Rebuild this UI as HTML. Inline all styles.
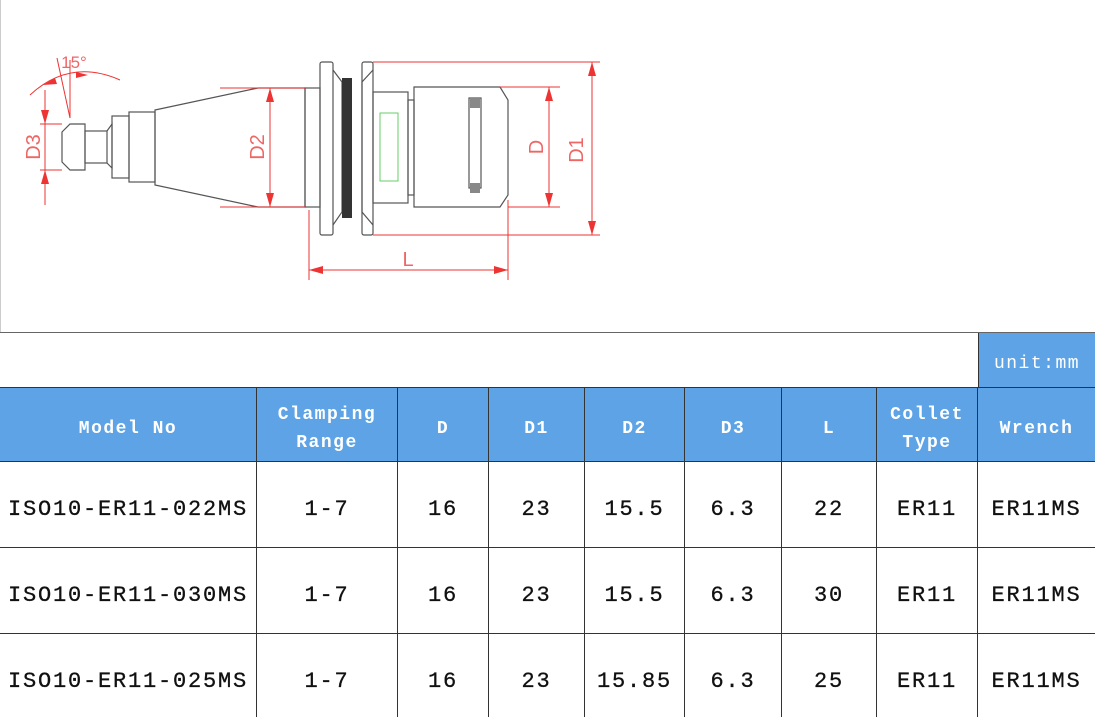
<!DOCTYPE html>
<html><head><meta charset="utf-8"><style>
html,body{margin:0;padding:0;background:#fff;}
#w{position:relative;width:1095px;height:717px;overflow:hidden;background:#fff;}
.c{position:absolute;box-sizing:border-box;display:flex;align-items:center;justify-content:center;text-align:center;font-family:"Liberation Mono",monospace;}
.h{background:#5da3e5;color:#fff;font-weight:bold;font-size:18px;letter-spacing:1.5px;line-height:28px;border-right:1px solid #333;padding-top:7px;}
.d{color:#111;font-size:22px;letter-spacing:1.8px;border-right:1px solid #333;border-bottom:1px solid #333;padding-top:9px;-webkit-text-stroke:0.3px #111;}
</style></head><body><div id="w">
<svg width="1095" height="332" style="position:absolute;left:0;top:0" xmlns="http://www.w3.org/2000/svg">
<line x1="0.5" y1="0" x2="0.5" y2="332" stroke="#ccc"/>
<g fill="none" stroke="#555" stroke-width="1.2">
<path d="M62 132 L70 124 L85 124 L85 170 L70 170 L62 162 Z"/>
<rect x="85" y="131" width="22" height="32"/>
<path d="M107 131 L112 124 L112 168 L107 163"/>
<rect x="112" y="116" width="17" height="62"/>
<rect x="129" y="112" width="26" height="70"/>
<path d="M155 110 L258 88 L305 88 L305 207 L258 207 L155 185 Z"/>
<rect x="305" y="88" width="15" height="119"/>
<rect x="320" y="62" width="13" height="173" rx="2"/>
<path d="M333 70 L342 82 L342 212 L333 225"/>
<path d="M373 70 L362 82 L362 212 L373 225"/>
<rect x="362" y="62" width="11" height="173" rx="2"/>
<rect x="373" y="92" width="35" height="111"/>
<rect x="408" y="100" width="6" height="95"/>
<path d="M414 87 L500 87 L508 100 L508 195 L500 207 L414 207 Z"/>
<rect x="469" y="98" width="12" height="90"/>
</g>
<rect x="342" y="78" width="10" height="140" fill="#333"/>
<rect x="380" y="113" width="18" height="68" fill="none" stroke="#6c6" stroke-width="1"/>
<rect x="470" y="98" width="10" height="10" fill="#888"/>
<rect x="470" y="183" width="10" height="10" fill="#888"/>
<g stroke="#e33" stroke-width="1" fill="none">
<line x1="373" y1="62" x2="600" y2="62"/><line x1="373" y1="235" x2="600" y2="235"/>
<line x1="592" y1="62" x2="592" y2="235"/>
<line x1="500" y1="87" x2="560" y2="87"/><line x1="508" y1="207" x2="560" y2="207"/>
<line x1="549" y1="87" x2="549" y2="207"/>
<line x1="220" y1="88" x2="305" y2="88"/><line x1="220" y1="207" x2="305" y2="207"/>
<line x1="270" y1="88" x2="270" y2="207"/>
<line x1="40" y1="124" x2="62" y2="124"/><line x1="40" y1="170" x2="62" y2="170"/>
<line x1="45" y1="90" x2="45" y2="205"/>
<line x1="309" y1="210" x2="309" y2="280"/><line x1="508" y1="200" x2="508" y2="280"/>
<line x1="309" y1="270" x2="508" y2="270"/>
<path d="M30 95 Q70 58 120 80"/>
<line x1="70" y1="118" x2="57" y2="58"/><line x1="70" y1="118" x2="70" y2="60"/>
</g>
<g fill="#e33">
<path d="M592 62 l-4 14 h8z M592 235 l-4 -14 h8z"/>
<path d="M549 87 l-4 14 h8z M549 207 l-4 -14 h8z"/>
<path d="M270 88 l-4 14 h8z M270 207 l-4 -14 h8z"/>
<path d="M45 124 l-4 -14 h8z M45 170 l-4 14 h8z"/>
<path d="M309 270 l14 -4 v8z M508 270 l-14 -4 v8z"/>
<path d="M43 85 l12 -7 l2 6z M88 75 l-12 -3 v6z"/>
</g>
<g fill="#e66" font-family="Liberation Sans,sans-serif" font-size="20">
<text x="0" y="0" transform="translate(583,150) rotate(-90)" text-anchor="middle">D1</text>
<text x="0" y="0" transform="translate(543,147) rotate(-90)" text-anchor="middle">D</text>
<text x="0" y="0" transform="translate(264,147) rotate(-90)" text-anchor="middle">D2</text>
<text x="0" y="0" transform="translate(40,147) rotate(-90)" text-anchor="middle">D3</text>
<text x="408" y="266" text-anchor="middle">L</text>
<text x="74" y="68" font-size="17" text-anchor="middle">15°</text>
</g>
</svg>
<div style="position:absolute;left:0;top:332px;width:1095px;height:1px;background:#666"></div>
<div class="c h" style="left:978px;top:333px;width:117px;height:54px;border-left:1px solid #333;border-right:none;font-weight:normal">unit:mm</div>
<div style="position:absolute;left:0;top:387px;width:1095px;height:1px;background:#333"></div>
<div class="c h" style="left:0;top:388px;width:257px;height:74px">Model No</div>
<div class="c h" style="left:257px;top:388px;width:141px;height:74px">Clamping<br>Range</div>
<div class="c h" style="left:398px;top:388px;width:91px;height:74px">D</div>
<div class="c h" style="left:489px;top:388px;width:96px;height:74px">D1</div>
<div class="c h" style="left:585px;top:388px;width:100px;height:74px">D2</div>
<div class="c h" style="left:685px;top:388px;width:97px;height:74px">D3</div>
<div class="c h" style="left:782px;top:388px;width:95px;height:74px">L</div>
<div class="c h" style="left:877px;top:388px;width:101px;height:74px">Collet<br>Type</div>
<div class="c h" style="left:978px;top:388px;width:117px;height:74px;border-right:none">Wrench</div>
<div style="position:absolute;left:0;top:461px;width:1095px;height:1px;background:#333"></div>

<div class="c d" style="left:0;top:462px;width:257px;height:86px">ISO10-ER11-022MS</div>
<div class="c d" style="left:257px;top:462px;width:141px;height:86px">1-7</div>
<div class="c d" style="left:398px;top:462px;width:91px;height:86px">16</div>
<div class="c d" style="left:489px;top:462px;width:96px;height:86px">23</div>
<div class="c d" style="left:585px;top:462px;width:100px;height:86px">15.5</div>
<div class="c d" style="left:685px;top:462px;width:97px;height:86px">6.3</div>
<div class="c d" style="left:782px;top:462px;width:95px;height:86px">22</div>
<div class="c d" style="left:877px;top:462px;width:101px;height:86px">ER11</div>
<div class="c d" style="left:978px;top:462px;width:117px;height:86px;border-right:none">ER11MS</div>

<div class="c d" style="left:0;top:548px;width:257px;height:86px">ISO10-ER11-030MS</div>
<div class="c d" style="left:257px;top:548px;width:141px;height:86px">1-7</div>
<div class="c d" style="left:398px;top:548px;width:91px;height:86px">16</div>
<div class="c d" style="left:489px;top:548px;width:96px;height:86px">23</div>
<div class="c d" style="left:585px;top:548px;width:100px;height:86px">15.5</div>
<div class="c d" style="left:685px;top:548px;width:97px;height:86px">6.3</div>
<div class="c d" style="left:782px;top:548px;width:95px;height:86px">30</div>
<div class="c d" style="left:877px;top:548px;width:101px;height:86px">ER11</div>
<div class="c d" style="left:978px;top:548px;width:117px;height:86px;border-right:none">ER11MS</div>

<div class="c d" style="left:0;top:634px;width:257px;height:86px">ISO10-ER11-025MS</div>
<div class="c d" style="left:257px;top:634px;width:141px;height:86px">1-7</div>
<div class="c d" style="left:398px;top:634px;width:91px;height:86px">16</div>
<div class="c d" style="left:489px;top:634px;width:96px;height:86px">23</div>
<div class="c d" style="left:585px;top:634px;width:100px;height:86px">15.85</div>
<div class="c d" style="left:685px;top:634px;width:97px;height:86px">6.3</div>
<div class="c d" style="left:782px;top:634px;width:95px;height:86px">25</div>
<div class="c d" style="left:877px;top:634px;width:101px;height:86px">ER11</div>
<div class="c d" style="left:978px;top:634px;width:117px;height:86px;border-right:none">ER11MS</div>
</div></body></html>
